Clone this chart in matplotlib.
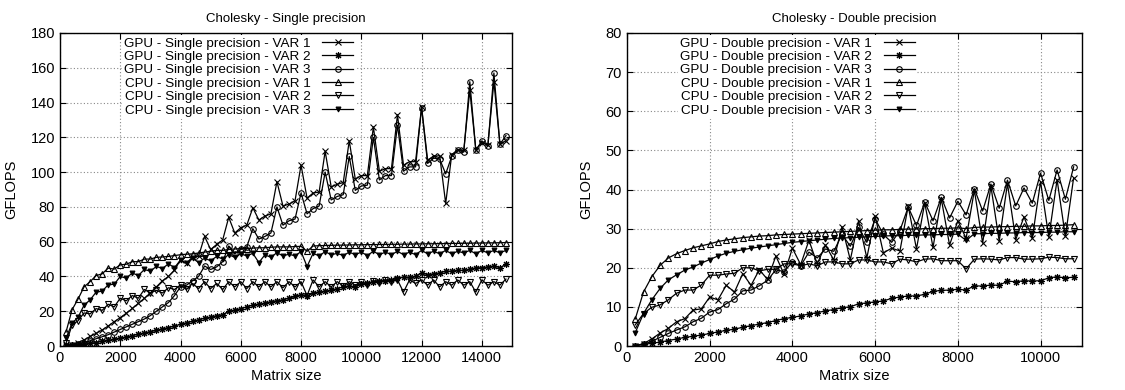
import matplotlib
matplotlib.use("Agg")
import matplotlib.pyplot as plt

plt.rcParams['font.family'] = ['Liberation Sans', 'DejaVu Sans']

sizes_single = list(range(200, 15000, 200))
sizes_double = list(range(200, 11000, 200))

gpu_s_var1 = [0.3, 0.8, 2.0, 3.5, 5.5, 7.3, 9.2, 11.5, 14.0, 16.3,
              18.8, 21.6, 24.5, 27.4, 30.6, 34.0, 37.5, 40.0, 43.7, 49.5,
              47.5, 51.3, 51.7, 63.0, 55.5, 58.4, 61.0, 74.0, 65.0, 68.0,
              69.5, 79.5, 72.5, 74.7, 76.0, 94.5, 80.5, 81.6, 83.5, 104.0,
              85.0, 88.0, 88.5, 112.0, 91.5, 93.0, 94.0, 118.0, 96.0, 98.0,
              98.0, 126.0, 100.5, 102.0, 102.0, 133.0, 104.0, 106.0, 106.0, 137.5,
              107.0, 109.0, 109.5, 82.0, 110.0, 113.0, 112.5, 147.0, 113.0, 117.0,
              115.5, 152.0, 116.0, 118.0]
gpu_s_var2 = [0.1, 0.3, 0.6, 1.0, 1.5, 2.0, 2.6, 3.2, 3.8, 4.5,
              5.2, 6.0, 6.7, 7.5, 8.2, 9.0, 9.8, 10.6, 11.4, 12.5,
              13.3, 14.2, 15.0, 16.0, 16.5, 17.5, 18.0, 20.0, 20.5, 21.5,
              22.5, 23.5, 24.0, 24.5, 25.5, 26.0, 26.5, 27.5, 28.5, 29.5,
              28.5, 30.5, 31.0, 31.5, 32.0, 33.0, 34.0, 34.5, 34.0, 35.5,
              36.0, 37.0, 37.5, 37.5, 38.0, 39.0, 39.5, 39.5, 40.0, 42.0,
              41.0, 41.5, 42.0, 43.0, 43.0, 43.5, 43.5, 44.0, 45.0, 45.0,
              45.5, 46.0, 45.0, 47.0]
gpu_s_var3 = [0.2, 0.5, 1.1, 2.0, 3.0, 4.2, 5.3, 6.5, 8.0, 9.5,
              11.0, 12.5, 14.0, 15.5, 17.5, 20.0, 22.5, 25.0, 29.0, 34.0,
              35.0, 37.5, 40.0, 46.0, 44.0, 45.5, 48.5, 57.5, 53.0, 55.5,
              57.0, 67.5, 61.5, 63.0, 65.0, 80.0, 69.5, 72.0, 73.0, 88.0,
              76.0, 79.0, 80.5, 100.0, 84.0, 86.0, 87.0, 109.0, 89.5, 92.0,
              92.5, 120.0, 95.5, 98.0, 98.0, 127.0, 100.5, 103.0, 103.0, 137.0,
              105.0, 108.0, 107.5, 99.0, 109.0, 113.0, 111.5, 152.0, 112.5, 118.0,
              115.0, 157.0, 116.0, 121.0]
cpu_s_var1 = [8.0, 20.8, 27.0, 34.0, 37.0, 40.5, 41.5, 44.8, 44.2, 46.7,
              47.0, 48.5, 48.5, 50.0, 50.0, 51.0, 51.2, 51.5, 52.0, 52.5,
              52.8, 53.0, 53.5, 54.0, 54.5, 55.0, 55.0, 55.5, 55.8, 56.0,
              56.0, 56.3, 56.5, 56.5, 56.8, 57.0, 57.0, 57.0, 57.2, 57.3,
              54.5, 57.5, 57.7, 57.8, 57.9, 58.0, 58.0, 58.1, 58.2, 58.2,
              58.3, 58.3, 58.4, 58.4, 58.5, 58.5, 58.6, 58.6, 58.7, 58.7,
              58.8, 58.8, 58.9, 58.9, 59.0, 59.0, 59.1, 59.1, 59.2, 59.2,
              59.3, 59.3, 59.4, 59.5]
cpu_s_var2 = [1.5, 12.0, 14.5, 19.0, 18.5, 21.5, 20.5, 24.0, 22.5, 27.5,
              26.0, 29.0, 27.5, 32.5, 30.5, 32.0, 30.5, 33.5, 32.5, 35.0,
              32.5, 36.0, 33.0, 37.0, 33.0, 36.0, 32.5, 37.0, 34.0, 37.0,
              33.0, 37.0, 34.0, 37.0, 34.0, 37.0, 33.5, 37.0, 34.0, 37.0,
              29.0, 38.0, 34.0, 37.0, 34.0, 37.0, 34.5, 37.0, 35.0, 37.0,
              35.0, 37.5, 36.0, 38.0, 37.0, 38.0, 31.0, 38.0, 36.0, 38.0,
              35.0, 38.0, 34.0, 37.0, 35.0, 38.0, 35.0, 37.0, 31.0, 38.0,
              35.0, 37.0, 35.0, 38.5]
cpu_s_var3 = [4.4, 13.0, 16.5, 23.5, 26.5, 31.0, 31.5, 35.2, 35.5, 40.0,
              39.0, 42.0, 40.5, 44.0, 43.0, 45.8, 44.5, 47.3, 45.0, 49.5,
              47.5, 50.5, 48.0, 50.5, 49.0, 51.5, 50.0, 52.5, 51.0, 53.0,
              51.8, 53.3, 48.0, 52.4, 51.0, 53.7, 51.8, 52.8, 51.8, 54.3,
              45.7, 53.3, 51.8, 54.3, 52.4, 53.3, 52.0, 54.0, 52.5, 54.0,
              52.0, 54.5, 52.5, 54.0, 52.5, 54.5, 52.5, 54.0, 52.5, 55.0,
              53.0, 54.5, 53.0, 55.0, 53.0, 54.5, 53.5, 55.0, 53.0, 55.0,
              53.5, 55.0, 53.5, 55.0]

gpu_d_var1 = [0.1, 0.6, 1.8, 3.3, 4.5, 6.2, 7.0, 9.2, 9.5, 12.5,
              11.8, 15.5, 13.8, 18.5, 15.5, 19.5, 17.0, 23.0, 18.3, 25.0,
              20.8, 27.0, 21.0, 25.8, 22.0, 30.5, 22.0, 32.0, 22.5, 33.2,
              23.8, 25.0, 24.3, 35.8, 24.8, 36.6, 25.2, 37.6, 25.8, 32.0,
              27.5, 39.8, 26.3, 40.8, 26.8, 41.5, 27.2, 33.0, 27.5, 42.0,
              27.8, 42.5, 28.0, 43.0]
gpu_d_var2 = [0.1, 0.4, 0.7, 1.0, 1.4, 1.8, 2.2, 2.5, 2.8, 3.2,
              3.6, 4.0, 4.3, 4.8, 5.2, 5.6, 6.0, 6.5, 7.0, 7.3,
              7.7, 8.2, 8.5, 9.0, 9.3, 9.8, 10.0, 10.8, 11.0, 11.3,
              11.5, 12.2, 12.5, 12.8, 12.8, 13.2, 14.0, 14.2, 14.3, 14.5,
              14.3, 15.4, 15.3, 15.6, 15.5, 16.6, 16.4, 16.7, 16.6, 16.7,
              17.4, 17.7, 17.4, 17.6]
gpu_d_var3 = [0.1, 0.4, 1.2, 2.2, 3.2, 4.1, 4.9, 6.2, 7.1, 8.7,
              9.3, 10.8, 12.0, 14.1, 14.3, 15.4, 16.8, 19.5, 19.0, 21.5,
              20.5, 24.0, 22.5, 24.8, 24.2, 28.5, 25.5, 30.3, 26.5, 32.5,
              28.5, 26.5, 29.5, 35.5, 30.8, 36.8, 32.0, 38.0, 32.7, 37.0,
              33.5, 40.2, 34.5, 41.4, 35.2, 42.4, 35.8, 40.4, 36.5, 44.2,
              37.2, 45.0, 37.5, 45.8]
cpu_d_var1 = [6.9, 13.8, 17.7, 20.6, 22.5, 23.6, 24.4, 25.1, 25.6, 26.1,
              26.7, 27.1, 27.4, 27.7, 27.9, 28.1, 28.2, 28.4, 28.5, 28.6,
              28.7, 28.8, 28.9, 29.0, 29.1, 29.2, 29.3, 29.4, 29.5, 29.6,
              29.7, 29.7, 29.8, 29.9, 29.9, 30.0, 30.0, 30.1, 30.1, 30.2,
              30.0, 30.3, 30.4, 30.4, 30.5, 30.5, 30.6, 30.6, 30.7, 30.7,
              30.8, 30.8, 30.9, 31.0]
cpu_d_var2 = [5.4, 8.3, 9.9, 10.5, 11.8, 13.5, 14.3, 14.3, 15.6, 18.1,
              18.1, 18.4, 18.6, 20.0, 20.0, 19.2, 19.6, 19.6, 21.0, 21.0,
              20.5, 21.0, 20.5, 21.5, 21.5, 21.0, 21.0, 22.0, 22.0, 21.5,
              21.5, 21.0, 22.2, 22.0, 21.5, 22.2, 22.3, 21.8, 21.8, 21.8,
              19.7, 22.2, 22.3, 22.2, 22.0, 22.6, 22.6, 22.2, 22.2, 22.3,
              22.7, 22.6, 22.3, 22.3]
cpu_d_var3 = [3.4, 8.3, 11.8, 14.7, 16.9, 18.2, 19.4, 20.2, 21.2, 22.1,
              23.0, 23.7, 24.2, 24.6, 25.0, 25.3, 25.6, 25.9, 26.2, 26.5,
              26.7, 26.9, 27.1, 27.3, 27.5, 27.6, 27.7, 27.8, 27.9, 28.0,
              28.1, 28.2, 28.2, 28.3, 28.3, 28.4, 28.4, 28.5, 28.5, 28.6,
              27.0, 28.7, 28.7, 28.8, 28.8, 28.9, 28.9, 29.0, 29.0, 29.0,
              29.1, 29.1, 29.2, 29.2]

var_names = ["VAR 1", "VAR 2", "VAR 3"]

styles = [
    dict(marker='x', ms=4, mfc='none'),
    dict(marker=(8, 2, 0), ms=5, mfc='none'),
    dict(marker='o', ms=4, mfc='none'),
    dict(marker='^', ms=4.5, mfc='none'),
    dict(marker='v', ms=4.6, mfc='none'),
    dict(marker='v', ms=3.5, mfc='black'),
]

fig = plt.figure(figsize=(11.25, 3.9), dpi=100)
ax1 = fig.add_axes([0.0533, 0.1128, 0.4018, 0.8026])
ax2 = fig.add_axes([0.5573, 0.1128, 0.4044, 0.8026])

def draw(ax, sizes, series, prec, xmax, ymax, ystep, xticks, title, leg_anchor):
    labels = [f"GPU - {prec} precision - {v}" for v in var_names] + \
             [f"CPU - {prec} precision - {v}" for v in var_names]
    for vals, lab, st in zip(series, labels, styles):
        ax.plot(sizes, vals, color='black', lw=0.9, mec='black', mew=0.8,
                label=lab, **st)
    ax.set_xlim(0, xmax)
    ax.set_ylim(0, ymax)
    ax.set_xticks(xticks)
    ax.set_yticks(list(range(0, ymax + 1, ystep)))
    ax.grid(True, color='#888888', linestyle=(0, (1, 2)), linewidth=0.8)
    ax.tick_params(direction='in', top=True, right=True, labelsize=10.5, length=4)
    for s in ax.spines.values():
        s.set_linewidth(1.0)
    ax.set_xlabel("Matrix size", fontsize=10.5, labelpad=3)
    ax.set_ylabel("GFLOPS", fontsize=10.5, labelpad=9)
    ax.set_title(title, fontsize=9.5, pad=8)
    leg = ax.legend(loc='upper right', bbox_to_anchor=leg_anchor, markerfirst=False,
                    fontsize=9.7, frameon=True, facecolor='white', edgecolor='none',
                    framealpha=1.0, fancybox=False, borderpad=0.2, labelspacing=0.07,
                    handlelength=2.3, handletextpad=0.85, borderaxespad=0.0)
    leg.set_zorder(5)

draw(ax1, sizes_single,
     [gpu_s_var1, gpu_s_var2, gpu_s_var3, cpu_s_var1, cpu_s_var2, cpu_s_var3],
     "Single", 15000, 180, 20, list(range(0, 15000, 2000)),
     "Cholesky - Single precision", (0.655, 0.995))
draw(ax2, sizes_double,
     [gpu_d_var1, gpu_d_var2, gpu_d_var3, cpu_d_var1, cpu_d_var2, cpu_d_var3],
     "Double", 11000, 80, 10, list(range(0, 11000, 2000)),
     "Cholesky - Double precision", (0.638, 0.995))

fig.savefig("out.png", dpi=100)
